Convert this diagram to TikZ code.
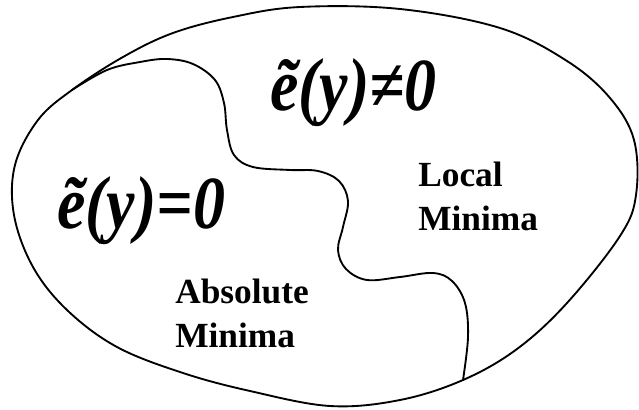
\documentclass[tikz,border=0pt]{standalone}
\usepackage{fontspec}
\setmainfont{Liberation Serif}
\usepackage{tikz}
\tikzset{
  rimline/.style  ={draw=black, line width=1.4pt, line join=round},
  waveline/.style ={draw=black, line width=1.4pt, line cap=round},
  eqlabel/.style  ={inner sep=0pt, anchor=base west, yscale=1.17, transform shape,
                    font=\fontsize{48}{52}\selectfont\bfseries\itshape},
  minlabel/.style ={inner sep=0pt, anchor=base west, align=left,
                    font=\fontsize{26.5}{32.5}\selectfont\bfseries},
}
\begin{document}
\begin{tikzpicture}[x=0.75pt,y=-0.75pt]
    \useasboundingbox (0,0) rectangle (639,410);
    % ----- outer region -----
    \draw[rimline] plot[smooth cycle,tension=0.6] coordinates {
      (72,90) (123,57) (173,33) (233,17) (300,7) (400,9) (500,28)
      (567,61) (610,98) (634,140) (636,195) (620,236) (567,303)
      (517,349) (463,380) (400,400) (330,406) (250,391) (183,373)
      (117,347) (67,310) (33,267) (14,215) (15,165) (38,120)};
    % ----- boundary between the two sets -----
    \draw[waveline] plot[smooth,tension=0.6] coordinates {
      (72,90) (107,70) (140,62) (167,59) (193,64) (215,80) (224,103)
      (227,130) (234,155) (253,167) (290,170) (318,171) (339,181)
      (348,201) (343,227) (338,250) (346,269) (367,280) (400,277)
      (433,273) (452,281) (465,303) (468,337) (463,380)};
    % ----- labels -----
    \node[eqlabel] (nz) at (270,110) {\~{e}(y)≠0};
    \node[eqlabel] (zr) at (57,228) {\~{e}(y)=0};
    \node[minlabel] (loc) at (418,230) {Local\\Minima};
    \node[minlabel] (abs) at (175,347) {Absolute\\Minima};
\end{tikzpicture}
\end{document}
